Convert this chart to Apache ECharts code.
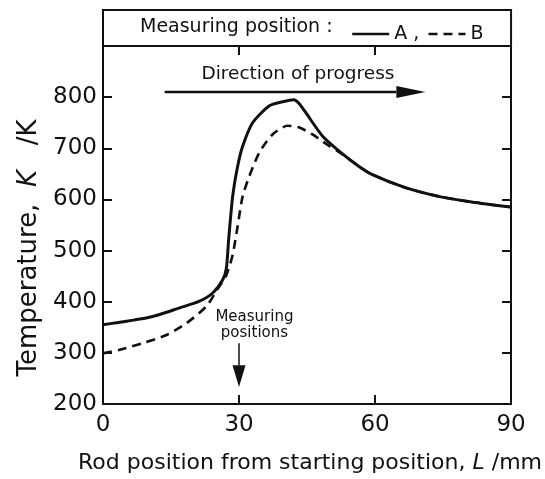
<!DOCTYPE html>
<html>
<head>
<meta charset="UTF-8">
<title>Rod temperature</title>
<script src="https://cdn.jsdelivr.net/npm/echarts@6/dist/echarts.min.js"></script>
</head>
<body style="margin:0;background:#fff;">
	<div id="container" style="width:545px;height:479px;"></div>
	<script type="text/javascript">

	// measuring position A (solid)
	var posA  = [0, 3, 6.7, 10, 12.5, 16.9, 21.3, 24.2, 26.4, 27.2, 27.7, 28.6, 29.7, 30.8, 33.0, 36.7, 39.6, 42.1, 43.2, 44.7, 48.4, 52, 56.4, 59.3, 66.7, 74, 81.3, 90];
	var tempA = [355, 359, 364, 369, 375, 388, 401, 417, 443, 465, 520, 606, 665, 704, 750, 783, 791, 795, 788, 770, 724, 695, 665, 649, 623, 606, 595, 585];
	// measuring position B (dashed)
	var posB  = [0, 3.7, 8.8, 14, 18.4, 22.8, 25.2, 27.2, 28.6, 29.7, 30.8, 32.3, 34.5, 37.4, 40.7, 43.2, 46.2, 49.8, 52, 56.4, 59.3, 66.7, 74, 81.3, 90];
	var tempB = [299, 306, 319, 335, 358, 391, 424, 452, 492, 548, 606, 646, 692, 727, 744, 741, 727, 705, 693, 665, 649, 623, 606, 595, 585];

	var xRange = [0, 90, 30];     // min, max, step
	var yRange = [200, 900, 100];

	function pairs(xs, ys) {
		var out = [];
		for (var i = 0; i < xs.length; i++) out.push([xs[i], ys[i]]);
		return out;
	}

	var font = 'DejaVu Sans';
	var ink = '#111';

	var dom = document.getElementById("container");
	var myChart = echarts.init(dom);

	function tickIn() { return {show: true, inside: true, length: 9, lineStyle: {color: ink, width: 2}}; }
	function axLine() { return {show: true, onZero: false, lineStyle: {color: ink, width: 2}}; }

	var option = {
		animation: false,
		backgroundColor: '#fff',
		title: {
			text: 'Measuring position :',
			left: 140, top: 18, padding: 0,
			textStyle: {fontFamily: font, fontSize: 19, fontWeight: 'normal', color: ink}
		},
		legend: {
			data: ['A', 'B'],
			left: 346, top: 19,
			itemWidth: 37, itemHeight: 14, itemGap: 8,
			selectedMode: false,
			itemStyle: {opacity: 0},
			lineStyle: {width: 2.4},
			formatter: function (n) { return n === 'A' ? 'A ,' : n; },
			textStyle: {fontFamily: font, fontSize: 19, color: ink, lineHeight: 20}
		},
		grid: {left: 103, right: 32, top: 46, bottom: 75},
		xAxis: [{
			type: 'value', min: xRange[0], max: xRange[1], interval: xRange[2],
			position: 'bottom',
			axisLine: axLine(), axisTick: tickIn(), splitLine: {show: false},
			axisLabel: {fontFamily: font, fontSize: 23, color: ink, margin: 10},
			name: 'Rod position from starting position, {i|L} /mm',
			nameLocation: 'middle', nameGap: 48,
			nameTextStyle: {fontFamily: font, fontSize: 22, color: ink, padding: [0, 0, 0, 6],
				rich: {i: {fontFamily: font, fontSize: 22, fontStyle: 'italic', color: ink}}}
		}, {
			type: 'value', min: xRange[0], max: xRange[1], interval: xRange[2],
			position: 'top',
			axisLine: axLine(), axisTick: tickIn(), splitLine: {show: false},
			axisLabel: {show: false}
		}],
		yAxis: [{
			type: 'value', min: yRange[0], max: yRange[1], interval: yRange[2],
			position: 'left',
			axisLine: axLine(), axisTick: tickIn(), splitLine: {show: false},
			axisLabel: {fontFamily: font, fontSize: 23, color: ink, margin: 6,
				formatter: function (v) { return v === yRange[1] ? '' : v; }},
			name: 'Temperature,  {i|K}   /K',
			nameLocation: 'middle', nameGap: 61, nameRotate: 90,
			nameTextStyle: {fontFamily: font, fontSize: 26, color: ink, padding: [0, 46, 0, 0],
				rich: {i: {fontFamily: font, fontSize: 26, fontStyle: 'italic', color: ink}}}
		}, {
			type: 'value', min: yRange[0], max: yRange[1], interval: yRange[2],
			position: 'right',
			axisLine: axLine(), axisTick: tickIn(), splitLine: {show: false},
			axisLabel: {show: false}
		}],
		series: [{
			name: 'A', type: 'line', data: pairs(posA, tempA),
			symbol: 'none', smooth: 0.25,
			lineStyle: {color: ink, width: 3}, itemStyle: {color: ink}
		}, {
			name: 'B', type: 'line', data: pairs(posB, tempB),
			symbol: 'none', smooth: 0.25,
			lineStyle: {color: ink, width: 2.6, type: [9, 6]}, itemStyle: {color: ink}
		}]
	};
	myChart.setOption(option, true);

	// annotations placed in data coordinates
	function px(x, y) { return myChart.convertToPixel({gridIndex: 0}, [x, y]); }
	var a0 = px(13.6, 810), a1 = px(64.7, 810), a2 = px(71.1, 810);
	var m0 = px(30, 319), m1 = px(30, 276), m2 = px(30, 233);
	var t1 = px(43, 845), t2 = px(33.4, 355);
	var boxL = px(0, 900), boxR = px(90, 900);

	myChart.setOption({
		graphic: [
			{type: 'rect', shape: {x: boxL[0], y: 10, width: boxR[0] - boxL[0], height: boxL[1] - 10},
				style: {fill: 'none', stroke: ink, lineWidth: 2}},
			{type: 'line', shape: {x1: a0[0], y1: a0[1], x2: a1[0], y2: a1[1]},
				style: {stroke: ink, lineWidth: 2.5}},
			{type: 'polygon', shape: {points: [[a1[0], a1[1] - 6], [a2[0], a2[1]], [a1[0], a1[1] + 6]]},
				style: {fill: ink}},
			{type: 'text', x: t1[0], y: t1[1],
				style: {text: 'Direction of progress', font: '18.5px "DejaVu Sans"', fill: ink,
					align: 'center', verticalAlign: 'middle'}},
			{type: 'line', shape: {x1: m0[0], y1: m0[1], x2: m1[0], y2: m1[1]},
				style: {stroke: ink, lineWidth: 1.5}},
			{type: 'polygon', shape: {points: [[m1[0] - 6.5, m1[1]], [m2[0], m2[1]], [m1[0] + 6.5, m1[1]]]},
				style: {fill: ink}},
			{type: 'text', x: t2[0], y: t2[1],
				style: {text: 'Measuring\npositions', font: '15px "DejaVu Sans"', fill: ink,
					align: 'center', verticalAlign: 'middle', lineHeight: 16}}
		]
	});
	</script>
</body>
</html>
